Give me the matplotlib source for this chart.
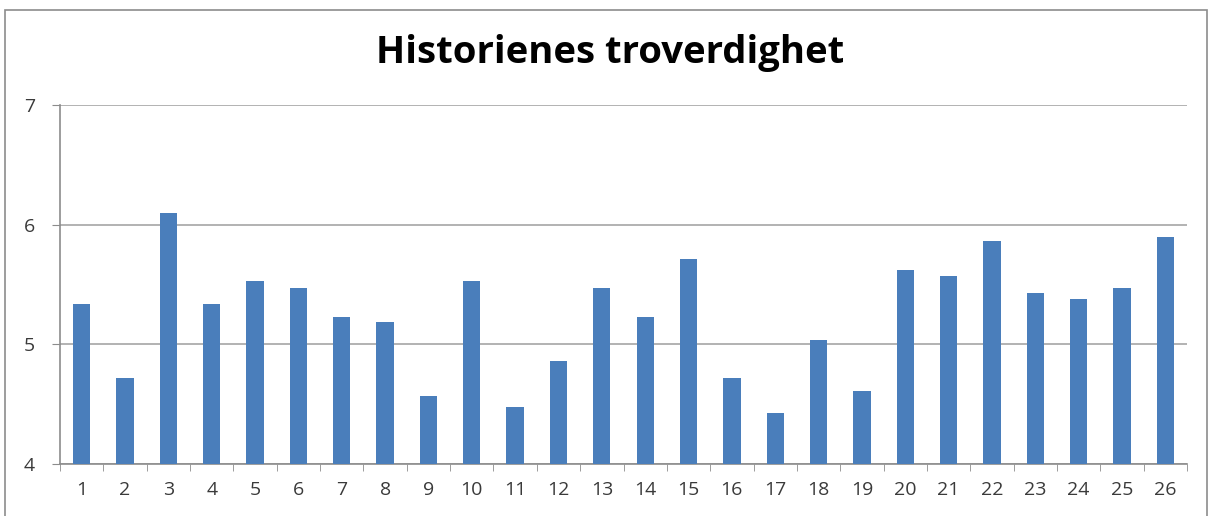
import matplotlib
matplotlib.use('Agg')
import matplotlib.pyplot as plt
from matplotlib.patches import Rectangle

stories = [str(i) for i in range(1, 27)]
credibility = [5.34, 4.72, 6.10, 5.34, 5.53, 5.47, 5.23, 5.19, 4.57, 5.53,
               4.48, 4.86, 5.47, 5.23, 5.71, 4.72, 4.43, 5.04, 4.61, 5.62,
               5.57, 5.86, 5.43, 5.38, 5.47, 5.90]
yticks = [4, 5, 6, 7]

plt.rcParams['font.family'] = ['Open Sans', 'DejaVu Sans']

fig = plt.figure(figsize=(12.11, 5.16), dpi=100)
ax = fig.add_axes([60 / 1211, 1 - 464 / 516, 1127 / 1211, 359 / 516])

# outer chart frame, like the Excel chart area
fig.patches.append(Rectangle((5 / 1211, -0.1), 1202 / 1211, 1.1 - 10 / 516,
                             transform=fig.transFigure, fill=False,
                             edgecolor='#8c8c8c', linewidth=1.2))

pos = list(range(len(stories)))
ax.bar(pos, credibility, width=0.4, color='#4a7ebb', zorder=3)

ax.set_ylim(4, 7)
ax.set_xlim(-0.5, len(stories) - 0.5)
ax.set_yticks(yticks)
ax.set_xticks(pos)
ax.set_xticklabels(stories)
ax.set_xticks([p + 0.5 for p in pos[:-1]] + [-0.5, len(stories) - 0.5], minor=True)

ax.grid(axis='y', color='#a6a6a6', linewidth=1.2, zorder=0)
for side in ['top', 'right']:
    ax.spines[side].set_visible(False)
for side in ['left', 'bottom']:
    ax.spines[side].set_color('#8c8c8c')
    ax.spines[side].set_linewidth(1.2)

ax.tick_params(axis='x', which='major', length=0, pad=12, labelsize=14, labelcolor='#3a3a3a')
ax.tick_params(axis='x', which='minor', length=5, color='#8c8c8c', direction='out')
ax.tick_params(axis='y', length=6, color='#8c8c8c', pad=12, labelsize=14, labelcolor='#3a3a3a')

fig.text(610 / 1211, 1 - 53 / 516, 'Historienes troverdighet', ha='center', va='center',
         fontsize=27.5, fontweight='bold', color='black')

fig.savefig('out.png', dpi=100)
